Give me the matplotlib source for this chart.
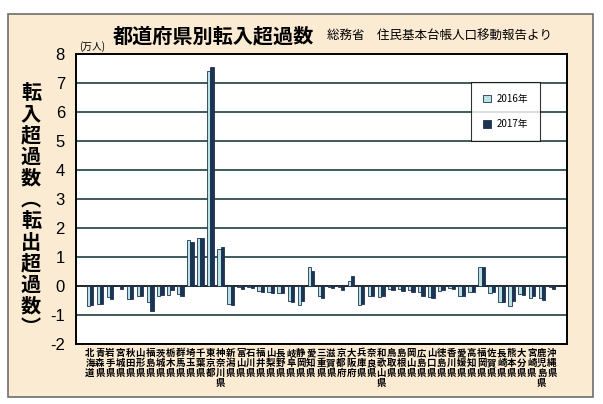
import matplotlib
matplotlib.use("Agg")
import matplotlib.pyplot as plt
from matplotlib.patches import Rectangle
import numpy as np

plt.rcParams['font.family'] = ['Noto Sans CJK JP', 'DejaVu Sans']

prefectures = ["北海道", "青森県", "岩手県", "宮城県", "秋田県", "山形県", "福島県",
               "茨城県", "栃木県", "群馬県", "埼玉県", "千葉県", "東京都", "神奈川県",
               "新潟県", "富山県", "石川県", "福井県", "山梨県", "長野県", "岐阜県",
               "静岡県", "愛知県", "三重県", "滋賀県", "京都府", "大阪府", "兵庫県",
               "奈良県", "和歌山県", "鳥取県", "島根県", "岡山県", "広島県", "山口県",
               "徳島県", "香川県", "愛媛県", "高知県", "福岡県", "佐賀県", "長崎県",
               "熊本県", "大分県", "宮崎県", "鹿児島県", "沖縄県"]

v2016 = [-0.68, -0.62, -0.39, -0.01, -0.45, -0.35, -0.56,
         -0.35, -0.31, -0.27, 1.60, 1.64, 7.42, 1.26,
         -0.62, -0.04, -0.02, -0.16, -0.21, -0.24, -0.52,
         -0.66, 0.67, -0.33, -0.05, -0.05, 0.18, -0.66,
         -0.35, -0.39, -0.12, -0.12, -0.15, -0.21, -0.37,
         -0.18, -0.07, -0.33, -0.19, 0.64, -0.24, -0.56,
         -0.68, -0.27, -0.42, -0.42, -0.04]

v2017 = [-0.65, -0.62, -0.45, -0.12, -0.45, -0.36, -0.86,
         -0.31, -0.15, -0.35, 1.52, 1.64, 7.55, 1.35,
         -0.66, -0.09, -0.06, -0.19, -0.25, -0.24, -0.56,
         -0.52, 0.52, -0.41, -0.06, -0.13, 0.33, -0.62,
         -0.35, -0.33, -0.14, -0.16, -0.21, -0.33, -0.42,
         -0.15, -0.09, -0.33, -0.21, 0.67, -0.19, -0.56,
         -0.51, -0.31, -0.33, -0.47, -0.09]

series_labels = ["2016年", "2017年"]
yticks = [8, 7, 6, 5, 4, 3, 2, 1, 0, -1, -2]

W, H = 603, 404
fig = plt.figure(figsize=(W / 100, H / 100), dpi=100)
fig.patch.set_facecolor("white")

# cream frame
frame = Rectangle((8 / W, 1 - 397 / H), (593 - 8) / W, (397 - 14) / H,
                  transform=fig.transFigure, facecolor="#fcebd3",
                  edgecolor="#6e6e6e", linewidth=1.2, zorder=-10)
fig.patches.append(frame)

ax = fig.add_axes([76 / W, 1 - 344 / H, (567 - 76) / W, (344 - 54) / H])
ax.set_zorder(1)
ax.set_facecolor("white")

x = np.arange(len(prefectures))
bw = 0.33
light = "#b9e2e2"
dark = "#1d3352"
ax.bar(x - bw / 2, v2016, width=bw, color=light, edgecolor="#1d3352",
       linewidth=0.6, label=series_labels[0], zorder=3)
ax.bar(x + bw / 2, v2017, width=bw, color=dark, edgecolor="#1d3352",
       linewidth=0.6, label=series_labels[1], zorder=3)

ax.set_xlim(-1.39, 47.5)
ax.set_ylim(-2, 8)
for yv in yticks:
    if yv in (8, -2):
        continue
    col = "black" if yv == 0 else "#1f3f3f"
    ax.axhline(yv, color=col, linewidth=1.2, zorder=2)

for s in ax.spines.values():
    s.set_color("black")
    s.set_linewidth(1.4)

ax.set_yticks(yticks)
ax.set_yticklabels([str(t) for t in yticks], fontfamily="Liberation Sans", fontsize=12)
ax.tick_params(axis="y", length=0, pad=8)

ax.set_xticks(x)
ax.set_xticklabels(["\n".join(p) for p in prefectures], fontsize=6.8,
                   fontweight="bold", linespacing=1.0, va="top")
ax.tick_params(axis="x", length=0, pad=3)

leg = ax.legend(loc="upper left", bbox_to_anchor=(0.795, 0.92), fontsize=7,
                frameon=True, fancybox=False, edgecolor="black",
                labelspacing=1.6, handlelength=0.8, handleheight=0.8,
                borderpad=1.2, handletextpad=0.6)
leg.get_frame().set_linewidth(0.8)

fig.text(213 / W, 1 - 36 / H, "都道府県別転入超過数", fontsize=14.5, fontweight="bold",
         ha="center", va="center")
fig.text(327 / W, 1 - 36 / H, "総務省　住民基本台帳人口移動報告より", fontsize=9,
         ha="left", va="center")
fig.text(79 / W, 1 - 47 / H, "(万人)", fontsize=7, ha="left", va="center")

ylab = "転入超過数︵転出超過数︶"
fig.text(31 / W, 1 - 210 / H, "\n".join(ylab), fontsize=14.5, fontweight="bold",
         ha="center", va="center", linespacing=1.02)

fig.savefig("out.png", dpi=100, facecolor=fig.get_facecolor())
